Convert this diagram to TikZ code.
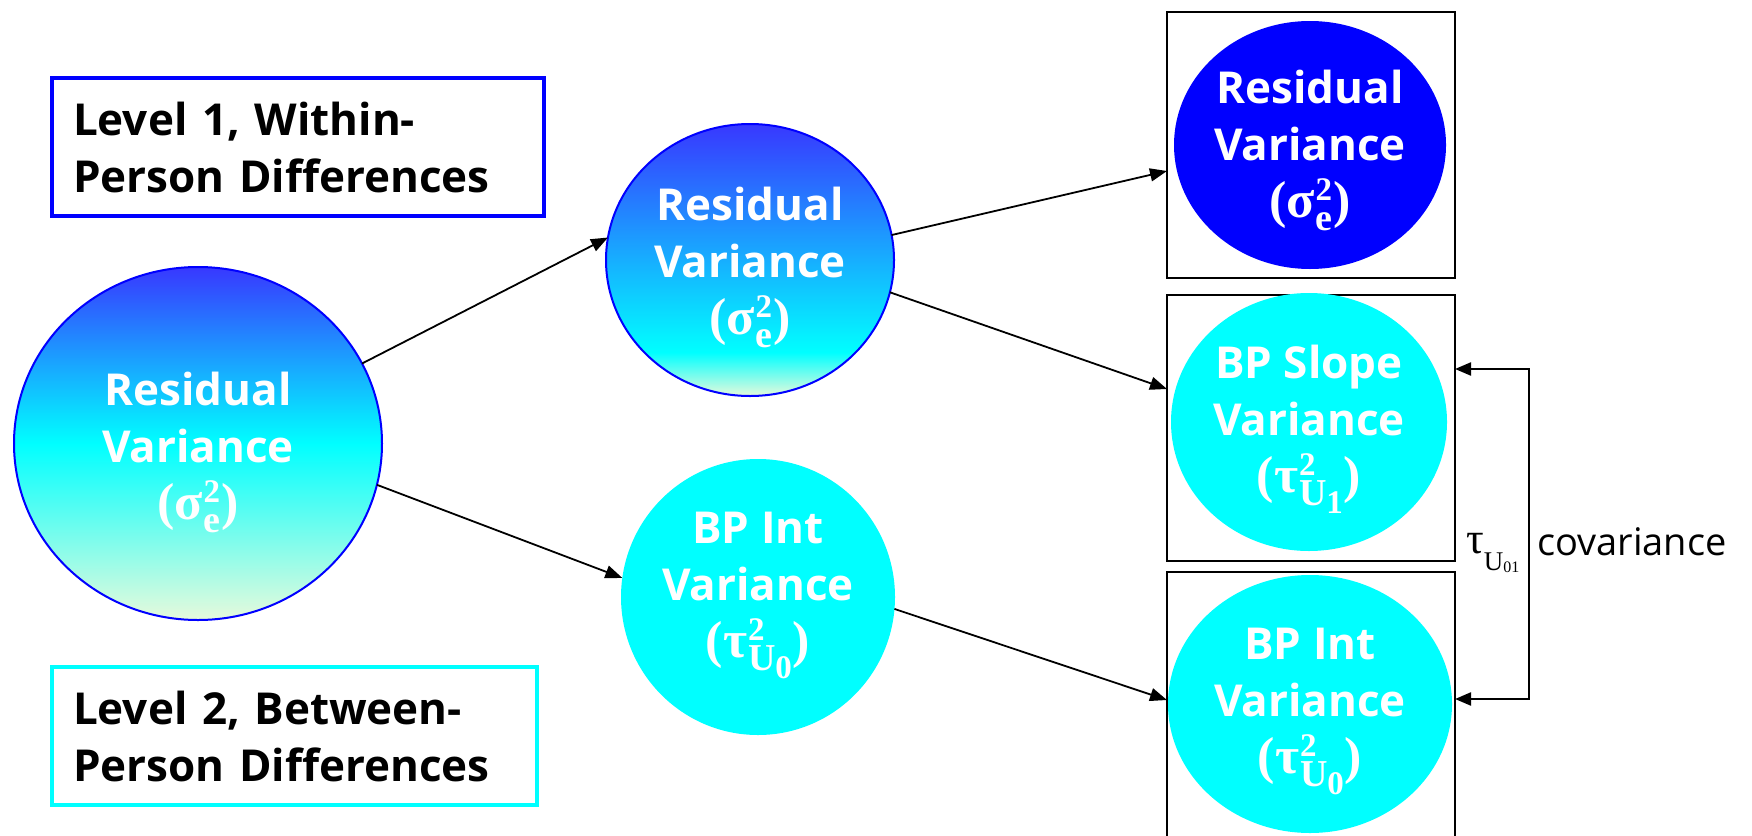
\documentclass[tikz,border=0pt]{standalone}
\usepackage{fontspec}
\setmainfont{Open Sans}
\newfontfamily\tnr{Liberation Serif}
\usetikzlibrary{arrows.meta,calc,shapes.geometric}
\definecolor{gblue}{HTML}{3838FF}
\definecolor{gcyan}{HTML}{00FFFF}
\definecolor{gpale}{HTML}{E6FADC}
\definecolor{pblue}{HTML}{0000FF}
\pgfdeclareverticalshading{gradL}{100bp}{color(0bp)=(gpale); color(25bp)=(gpale); color(50bp)=(gcyan); color(75bp)=(gblue); color(100bp)=(gblue)}
\pgfdeclareverticalshading{gradM}{100bp}{color(0bp)=(gpale); color(25bp)=(gpale); color(33bp)=(gcyan); color(75bp)=(gblue); color(100bp)=(gblue)}
\newcommand\supsub[2]{\kern1pt\rlap{\raisebox{17pt}{\fontsize{33}{33}\selectfont #1}}\raisebox{-13pt}{\fontsize{38}{38}\selectfont #2}\kern1pt}
\newcommand\mline[1]{{\tnr\bfseries\fontsize{52}{57}\selectfont #1}}
\newcommand\usub[1]{U\raisebox{-8pt}{\fontsize{33}{33}\selectfont #1}}
\begin{document}
\begin{tikzpicture}[x=1pt,y=-1pt,
  ell/.style={ellipse, inner sep=0pt, outer sep=0pt},
  vtext/.style={text=white, align=center, inner sep=0pt, font=\bfseries\fontsize{44}{57}\selectfont},
  rbox/.style={draw=black, line width=2.5pt, fill=white, minimum width=288pt, inner sep=0pt, outer sep=0pt},
  lvl/.style={line width=3.5pt, fill=white, align=left, inner xsep=21pt, inner ysep=0pt, outer sep=0pt, font=\bfseries\fontsize{44}{57}\selectfont, text=black, anchor=north west},
  arr/.style={line width=1.8pt, -{Triangle[length=17pt,width=13pt]}},
  covarr/.style={line width=2.2pt, {Triangle[length=16pt,width=13pt]}-{Triangle[length=16pt,width=13pt]}}]
\useasboundingbox (0,0) rectangle (1752,835);
% level boxes
\node[lvl, draw=pblue, text width=450pt, minimum height=138pt] (lv1) at (52,78) {Level 1, Within-\\Person Differences};
\node[lvl, draw=gcyan, text width=443pt, minimum height=138pt] (lv2) at (52,667) {Level 2, Between-\\Person Differences};
% right boxes
\node[rbox, minimum height=266pt] (B1) at (1311,145) {};
\node[rbox, minimum height=266pt] (B2) at (1311,428) {};
\node[rbox, minimum height=268pt] (B3) at (1311,706) {};
% ellipses
\node[ell, draw=pblue, line width=2pt, shade, shading=gradL, minimum width=368pt, minimum height=353pt] (L) at (198,443.5) {};
\node[ell, draw=pblue, line width=2pt, shade, shading=gradM, minimum width=288pt, minimum height=272pt] (M1) at (750,260) {};
\node[ell, fill=gcyan, minimum width=274pt, minimum height=276pt] (M2) at (758,597) {};
\node[ell, fill=pblue, minimum width=272pt, minimum height=248pt] (R1) at (1310,145) {};
\node[ell, fill=gcyan, minimum width=276pt, minimum height=258pt] (R2) at (1309,422) {};
\node[ell, fill=gcyan, minimum width=284pt, minimum height=258pt] (R3) at (1310,704) {};
% texts
\node[vtext] (Lt) at (198,452) {Residual\\Variance\\\mline{(σ\supsub{2}{e})}};
\node[vtext] (M1t) at (750,267) {Residual\\Variance\\\mline{(σ\supsub{2}{e})}};
\node[vtext] (M2t) at (758,595) {BP Int\\Variance\\\mline{(τ\supsub{2}{\usub{0}})}};
\node[vtext] (R1t) at (1310,150) {Residual\\Variance\\\mline{(σ\supsub{2}{e})}};
\node[vtext] (R2t) at (1309,429) {BP Slope\\Variance\\\mline{(τ\supsub{2}{\usub{1}})}};
\node[vtext] (R3t) at (1310,711) {BP Int\\Variance\\\mline{(τ\supsub{2}{\usub{0}})}};
% arrows
\draw[arr] (L.26) -- (M1.171);
\draw[arr] (L.-13) -- (M2.172);
\draw[arr] (M1.10) -- ($(B1.west)+(0,26)$);
\draw[arr] (M1.-13) -- ($(B2.west)+(0,-39)$);
\draw[arr] (M2.-5) -- ($(B3.west)+(0,-6)$);
\draw[covarr] ($(B2.east)+(0,-59)$) -- ++(74,0) |- ($(B3.east)+(0,-7)$);
% covariance label
\node[anchor=base west, inner sep=0pt, font=\tnr\fontsize{44}{44}\selectfont] (tau) at (1466,553) {τ\raisebox{-17pt}{\fontsize{27}{27}\selectfont U\raisebox{-2pt}{\fontsize{16}{16}\selectfont 01}}};
\node[anchor=base west, inner sep=0pt, font=\fontsize{38}{38}\selectfont] (cov) at (1537,555) {covariance};
\end{tikzpicture}
\end{document}
